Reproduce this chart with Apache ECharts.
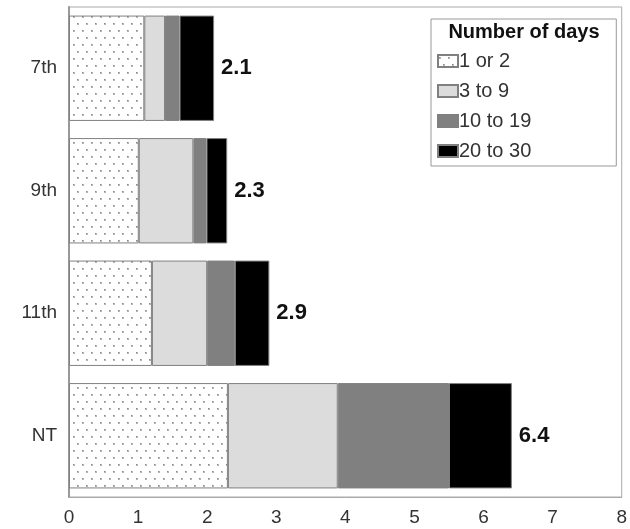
<!DOCTYPE html>
<html><head><meta charset="utf-8">
<script src="https://cdn.jsdelivr.net/npm/echarts@6/dist/echarts.min.js"></script>
<style>html,body{margin:0;padding:0;background:#fff}#c{width:630px;height:529px}</style>
</head><body><div id="c"></div>
<script>
var categories = ['7th', '9th', '11th', 'NT'];
var seriesNames = ['1 or 2', '3 to 9', '10 to 19', '20 to 30'];
var days1to2 = [1.09, 1.01, 1.20, 2.30];
var days3to9 = [0.30, 0.79, 0.80, 1.59];
var days10to19 = [0.21, 0.19, 0.40, 1.61];
var days20to30 = [0.50, 0.30, 0.50, 0.91];
var totals = ['2.1', '2.3', '2.9', '6.4'];
var xTicks = [0, 1, 2, 3, 4, 5, 6, 7, 8];

var FONT = 'Liberation Sans, Arial, sans-serif';

function dotPattern() {
  var c = document.createElement('canvas');
  c.width = 9; c.height = 14;
  var g = c.getContext('2d');
  g.fillStyle = '#ffffff'; g.fillRect(0, 0, 9, 14);
  g.fillStyle = '#b4b4b4';
  g.fillRect(1, 2, 2, 2);
  g.fillRect(5, 9, 2, 2);
  g.fillStyle = '#888888';
  g.fillRect(1, 2, 1, 1);
  g.fillRect(5, 9, 1, 1);
  return c;
}

var chart = echarts.init(document.getElementById('c'), null, {renderer: 'canvas'});
var fills = [{image: dotPattern(), repeat: 'repeat'}, '#dcdcdc', '#808080', '#000000'];
var values = [days1to2, days3to9, days10to19, days20to30];
var series = seriesNames.map(function (n, i) {
  var s = {
    name: n, type: 'bar', stack: 'all', data: values[i],
    barCategoryGap: '14%',
    itemStyle: {color: fills[i], borderColor: '#808080', borderWidth: 1},
    emphasis: {disabled: true}
  };
  if (i === 3) {
    s.label = {
      show: true, position: 'right', distance: 7,
      formatter: function (p) { return totals[p.dataIndex]; },
      fontFamily: FONT, fontWeight: 'bold', fontSize: 22, color: '#111'
    };
  }
  return s;
});

chart.setOption({
  animation: false,
  backgroundColor: '#fff',
  title: {
    text: 'Number of days', left: 524, top: 22, textAlign: 'center', padding: 0,
    textStyle: {fontFamily: FONT, fontWeight: 'bold', fontSize: 20, lineHeight: 20, color: '#111'}
  },
  legend: {
    data: seriesNames, orient: 'vertical', left: 431, top: 19, icon: 'rect',
    padding: [32, 85, 5, 6], itemGap: 10, itemWidth: 20, itemHeight: 12,
    borderColor: '#999', borderWidth: 1, backgroundColor: '#fff',
    textStyle: {fontFamily: FONT, fontSize: 20, lineHeight: 19, color: '#333', padding: [0, 0, 0, -4]},
    selectedMode: false
  },
  grid: {left: 69, right: 4, top: 7, bottom: 32, show: true, borderColor: '#aaa', borderWidth: 1, containLabel: false},
  xAxis: {
    type: 'value', min: xTicks[0], max: xTicks[xTicks.length - 1], interval: 1,
    axisLine: {show: true, lineStyle: {color: '#aaa'}},
    axisTick: {show: false}, splitLine: {show: false},
    axisLabel: {fontFamily: FONT, fontSize: 19, color: '#333', margin: 11}
  },
  yAxis: {
    type: 'category', data: categories, inverse: true,
    axisLine: {show: true, lineStyle: {color: '#999', width: 2}},
    axisTick: {show: false},
    axisLabel: {fontFamily: FONT, fontSize: 19, color: '#333', margin: 12}
  },
  series: series
});
</script></body></html>
